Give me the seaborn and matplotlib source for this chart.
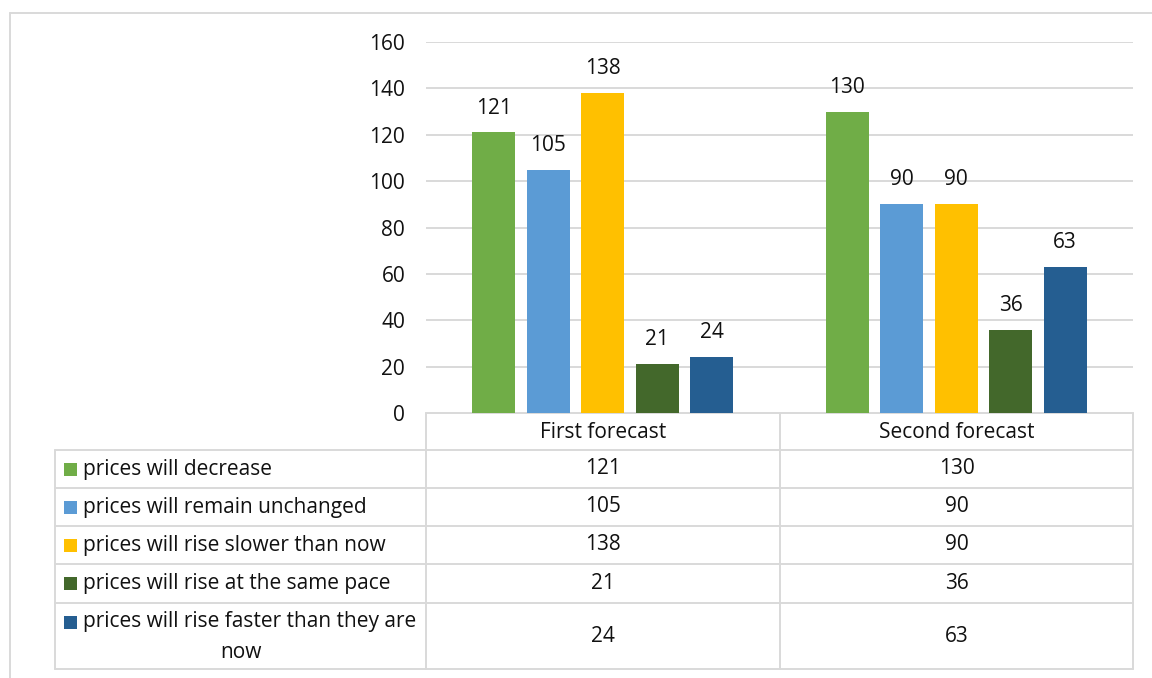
import matplotlib
matplotlib.use("Agg")
import matplotlib.pyplot as plt
import seaborn as sns
import pandas as pd

# Survey answers per forecast round
forecasts = ["First forecast", "Second forecast"]
answers = [
    "prices will decrease",
    "prices will remain unchanged",
    "prices will rise slower than now",
    "prices will rise at the same pace",
    "prices will rise faster than they are now",
]
first_forecast = [121, 105, 138, 21, 24]
second_forecast = [130, 90, 90, 36, 63]
colors = ["#70ad47", "#5b9bd5", "#ffc000", "#43682b", "#255e91"]
yticks = [0, 20, 40, 60, 80, 100, 120, 140, 160]

df = pd.DataFrame({
    "forecast": [forecasts[0]] * len(answers) + [forecasts[1]] * len(answers),
    "answer": answers * 2,
    "count": first_forecast + second_forecast,
})

sns.set_theme(style="white")
plt.rcParams["font.family"] = ["Open Sans", "DejaVu Sans"]

W, H = 1152, 678
fig = plt.figure(figsize=(W / 100, H / 100), dpi=100)
GRID = "#d9d9d9"
TXT = "#111111"
FS = 15


def fx(px):
    return px / W


def fy(py):
    return 1 - py / H


# Plot area in pixel coordinates
left, right, top, bottom = 426, 1133, 42, 413
ax = fig.add_axes([fx(left), fy(bottom), fx(right - left), (bottom - top) / H])
sns.barplot(data=df, x="forecast", y="count", hue="answer", hue_order=answers,
            palette=colors, width=0.77, gap=0.21, ax=ax, legend=False,
            saturation=1, edgecolor="none")
ax.set_ylim(0, 160)
ax.set_xlim(-0.5, 1.5)
ax.set_yticks(yticks)
ax.set_yticklabels([str(t) for t in yticks], fontsize=FS, color=TXT)
ax.tick_params(axis="y", length=0, pad=15)
ax.set_xticks([])
ax.set_xlabel("")
ax.set_ylabel("")
ax.yaxis.grid(True, color=GRID, linewidth=1.4)
ax.set_axisbelow(True)
for s in ax.spines.values():
    s.set_visible(False)
for cont in ax.containers:
    ax.bar_label(cont, labels=[f"{int(v)}" for v in cont.datavalues],
                 padding=10, fontsize=FS, color=TXT)

# Data table and frame drawn in pixel space
tab = fig.add_axes([0, 0, 1, 1], zorder=-1)
tab.set_xlim(0, W)
tab.set_ylim(H, 0)
tab.axis("off")
lw = 1.4

# outer frame
tab.plot([10, W], [12.5, 12.5], color=GRID, lw=lw)
tab.plot([10, 10], [12.5, H], color=GRID, lw=lw)

label_l, col1, col2, col3 = 55, 426, 780, 1133
rows = [450, 488, 526, 564, 603, 669]
tab.plot([col1, col3], [413, 413], color=GRID, lw=lw)
for r in rows:
    tab.plot([label_l, col3], [r, r], color=GRID, lw=lw)
tab.plot([label_l, label_l], [rows[0], rows[-1]], color=GRID, lw=lw)
for c in (col1, col2, col3):
    tab.plot([c, c], [413, rows[-1]], color=GRID, lw=lw)

# header
for i, name in enumerate(forecasts):
    cx = (col1 + col2) / 2 if i == 0 else (col2 + col3) / 2
    tab.text(cx, 432, name, ha="center", va="center", fontsize=FS, color=TXT)

# rows
for i, ans in enumerate(answers):
    y0, y1 = rows[i], rows[i + 1]
    cy = (y0 + y1) / 2
    if ans == "prices will rise faster than they are now":
        ly = y0 + 19
        tab.text(83, ly, "prices will rise faster than they are", ha="left",
                 va="center", fontsize=FS, color=TXT)
        tab.text((label_l + col1) / 2, ly + 30, "now", ha="center",
                 va="center", fontsize=FS, color=TXT)
    else:
        ly = cy
        tab.text(83, ly, ans, ha="left", va="center", fontsize=FS, color=TXT)
    tab.add_patch(plt.Rectangle((64, ly - 6.5), 13, 13, color=colors[i], lw=0))
    tab.text((col1 + col2) / 2, cy, str(first_forecast[i]), ha="center",
             va="center", fontsize=FS, color=TXT)
    tab.text((col2 + col3) / 2, cy, str(second_forecast[i]), ha="center",
             va="center", fontsize=FS, color=TXT)

fig.savefig("out.png", dpi=100, facecolor="white")
